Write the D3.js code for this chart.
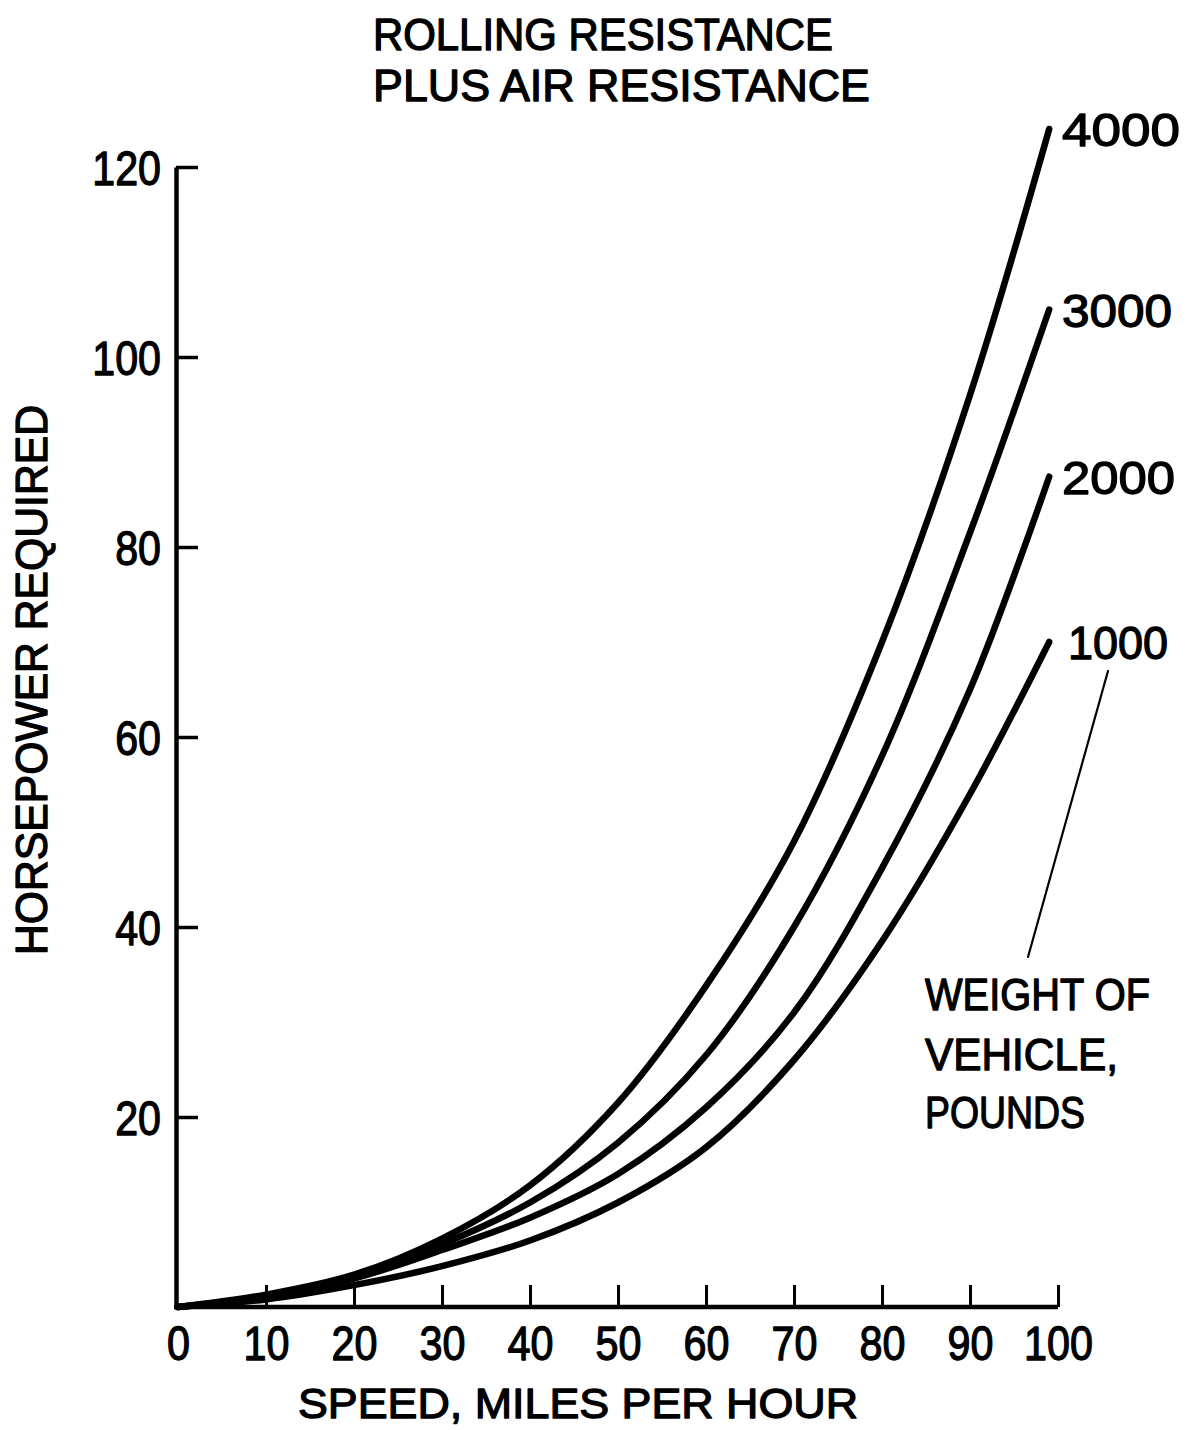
<!DOCTYPE html>
<html>
<head>
<meta charset="utf-8">
<script src="https://cdn.jsdelivr.net/npm/d3@7"></script>
<style>
  html, body { margin: 0; padding: 0; background: #fff; }
  svg { display: block; }
  text { font-family: "Liberation Sans", "DejaVu Sans", sans-serif; fill: #000; stroke: #000; stroke-width: 1.3px; stroke-linejoin: round; }
</style>
</head>
<body>
<svg id="chart" width="1189" height="1430"></svg>
<script>
// ---- data ----
const speeds = [0, 10, 20, 30, 40, 50, 60, 70, 80, 90, 99];
const hp4000 = [0, 1.3, 3.4, 7.2, 12.8, 21.5, 33.8, 49.0, 70.0, 96.0, 124.0];
const hp3000 = [0, 1.2, 3.2, 6.6, 11.0, 17.3, 26.5, 40.0, 58.0, 81.5, 105.0];
const hp2000 = [0, 1.1, 3.0, 6.0, 9.4, 14.0, 21.0, 31.0, 46.2, 65.0, 87.4];
const hp1000 = [0, 0.8, 2.3, 4.3, 7.0, 11.0, 16.8, 26.0, 38.5, 54.0, 70.0];
const seriesNames = ["4000", "3000", "2000", "1000"];
const xTicks = [0, 10, 20, 30, 40, 50, 60, 70, 80, 90, 100];
const yTicks = [20, 40, 60, 80, 100, 120];
const titleLines = ["ROLLING  RESISTANCE", "PLUS  AIR  RESISTANCE"];
const xTitle = "SPEED,  MILES  PER  HOUR";
const yTitle = "HORSEPOWER  REQUIRED";
const noteLines = ["WEIGHT  OF", "VEHICLE,", "POUNDS"];

const series = [hp4000, hp3000, hp2000, hp1000];

const svg = d3.select("#chart");
const x = d3.scaleLinear().domain([0, 100]).range([178, 1058]);
const y = d3.scaleLinear().domain([0, 120]).range([1307, 167]);

function condense(sel, f) {
  sel.each(function () {
    const w = this.getComputedTextLength();
    d3.select(this).attr("textLength", w * f).attr("lengthAdjust", "spacingAndGlyphs");
  });
}

// axes
const yAxis = d3.axisLeft(y).tickValues(yTicks).tickSizeInner(-22).tickSizeOuter(0).tickPadding(15).tickFormat(d3.format("d"));
const gy = svg.append("g").attr("transform", `translate(${x(0) - 2},0)`).call(yAxis);
gy.select(".domain").attr("stroke", "#000").attr("stroke-width", 4.5);
gy.selectAll(".tick line").attr("stroke", "#000").attr("stroke-width", 3.5);
gy.selectAll(".tick text").attr("font-size", 49).attr("dy", "0.36em");
condense(gy.selectAll(".tick text"), 0.84);

const xAxis = d3.axisBottom(x).tickValues(xTicks).tickSizeInner(-22).tickSizeOuter(0).tickPadding(18).tickFormat(d3.format("d"));
const gx = svg.append("g").attr("transform", `translate(0,${y(0)})`).call(xAxis);
gx.select(".domain").attr("stroke", "#000").attr("stroke-width", 4.5)
  .attr("d", `M${x(0) - 4},0H${x(100)}`);
gx.selectAll(".tick line").attr("stroke", "#000").attr("stroke-width", 3);
gx.selectAll(".tick").filter(d => d === 0).select("line").remove();
gx.selectAll(".tick text").attr("font-size", 48).attr("dy", "0.72em");
condense(gx.selectAll(".tick text"), 0.86);

// curves
const line = d3.line().x((d, i) => x(speeds[i])).y(d => y(d)).curve(d3.curveCatmullRom.alpha(0.5));
svg.append("g").selectAll("path").data(series).join("path")
  .attr("d", d => line(d))
  .attr("fill", "none").attr("stroke", "#000").attr("stroke-width", 6.5)
  .attr("stroke-linecap", "round").attr("stroke-linejoin", "round");

// curve labels
const labelW = [118, 110, 113, 100];
svg.append("g").selectAll("text").data(series).join("text")
  .attr("x", (d, i) => i === 3 ? 1068 : 1062)
  .attr("y", d => y(d[d.length - 1]) + 17)
  .attr("font-size", 46)
  .attr("textLength", (d, i) => labelW[i]).attr("lengthAdjust", "spacingAndGlyphs")
  .text((d, i) => seriesNames[i]);

// titles
const t = svg.append("g");
t.append("text").attr("x", 373).attr("y", 50).attr("font-size", 44)
  .attr("textLength", 460).attr("lengthAdjust", "spacingAndGlyphs").text(titleLines[0]);
t.append("text").attr("x", 373).attr("y", 101).attr("font-size", 44)
  .attr("textLength", 497).attr("lengthAdjust", "spacingAndGlyphs").text(titleLines[1]);

svg.append("text").attr("x", 298).attr("y", 1418).attr("font-size", 43)
  .attr("textLength", 560).attr("lengthAdjust", "spacingAndGlyphs").text(xTitle);

svg.append("text").attr("transform", "translate(47,955) rotate(-90)").attr("font-size", 44)
  .attr("textLength", 550).attr("lengthAdjust", "spacingAndGlyphs").text(yTitle);

// note
const noteY = [1010, 1070, 1128];
const noteW = [225, 193, 160];
svg.append("g").selectAll("text").data(noteLines).join("text")
  .attr("x", 925).attr("y", (d, i) => noteY[i]).attr("font-size", 45)
  .attr("textLength", (d, i) => noteW[i]).attr("lengthAdjust", "spacingAndGlyphs")
  .text(d => d);

svg.append("line").attr("x1", 1108).attr("y1", 671).attr("x2", 1028).attr("y2", 957)
  .attr("stroke", "#000").attr("stroke-width", 2.2).attr("stroke-linecap", "round");
</script>
</body>
</html>
